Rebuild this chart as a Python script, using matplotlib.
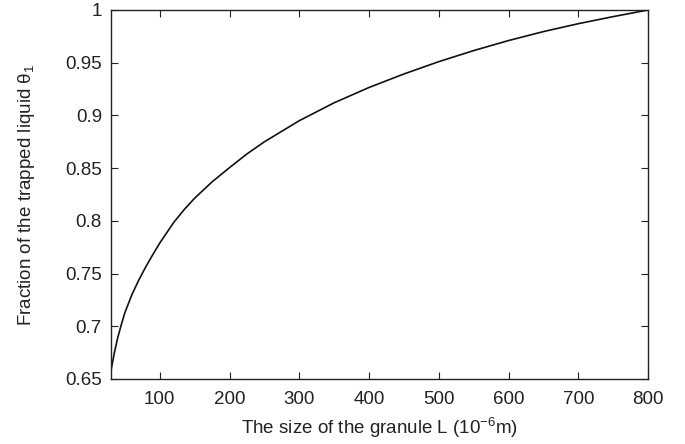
import matplotlib
matplotlib.use("Agg")
import matplotlib.pyplot as plt
from matplotlib.ticker import FuncFormatter

plt.rcParams['font.family'] = ['Liberation Sans', 'DejaVu Sans']
plt.rcParams['mathtext.fontset'] = 'custom'
plt.rcParams['mathtext.rm'] = 'Liberation Sans'
plt.rcParams['mathtext.it'] = 'Liberation Sans'

L_size = [30, 35, 40, 45, 50, 60, 70, 80, 90, 100, 120, 135, 150, 175, 200, 225, 250,
          300, 350, 400, 450, 500, 550, 600, 650, 700, 750, 800]
theta1 = [0.658, 0.6754, 0.690, 0.702, 0.713, 0.730, 0.744, 0.7565, 0.768, 0.779,
          0.7985, 0.8107, 0.8215, 0.837, 0.8505, 0.8635, 0.875, 0.895, 0.912,
          0.9265, 0.9393, 0.951, 0.9615, 0.971, 0.9795, 0.987, 0.9937, 1.0]
x_ticks = [100, 200, 300, 400, 500, 600, 700, 800]
y_ticks = [0.65, 0.7, 0.75, 0.8, 0.85, 0.9, 0.95, 1.0]

fig = plt.figure(figsize=(6.85, 4.44), dpi=100)
ax = fig.add_axes([0.162, 0.1464, 0.784, 0.8311])
ax.plot(L_size, theta1, color='#111111', lw=1.2, solid_joinstyle='round')
ax.set_xlim(30, 800)
ax.set_ylim(0.65, 1.0)
ax.set_xticks(x_ticks)
ax.set_yticks(y_ticks)
ax.yaxis.set_major_formatter(FuncFormatter(lambda v, p: f"{v:g}"))
ax.tick_params(direction='in', length=5, width=0.8, top=True, right=True,
               labelsize=13.5, colors='#222222', labelcolor='#222222')
ax.tick_params(axis='x', pad=9)
ax.tick_params(axis='y', pad=6.5)
for s in ax.spines.values():
    s.set_color('#222222')
    s.set_linewidth(1.0)
ax.set_xlabel(r"The size of the granule L (10$^{-6}$m)", fontsize=13.5, color='#222222', labelpad=5)
ax.set_ylabel(r"Fraction of the trapped liquid θ$_1$", fontsize=13.5, color='#222222', labelpad=20.5)
fig.savefig("out.png", dpi=100)
